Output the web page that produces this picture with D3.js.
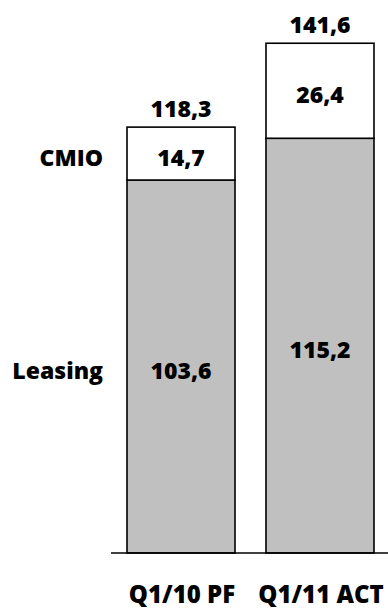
<!DOCTYPE html>
<html><head><meta charset="utf-8">
<script src="https://cdn.jsdelivr.net/npm/d3@7"></script>
<style>body{margin:0;background:#fff}svg{display:block}text{font-family:'Open Sans',Lato,sans-serif;font-weight:800;fill:#000}</style>
</head><body>
<svg id="c" width="388" height="609"></svg>
<script>
const categories = ["Q1/10 PF", "Q1/11 ACT"];
const seriesNames = ["Leasing", "CMIO"];
const leasing = [103.6, 115.2];
const cmio = [14.7, 26.4];
const totals = [118.3, 141.6];
const fmt = v => d3.format(".1f")(v).replace(".", ",");

const svg = d3.select("#c");
const x = d3.scaleBand().domain(categories).range([112, 389]).paddingInner(0.223).paddingOuter(0.108);
const y = d3.scaleLinear().domain([0, 150]).range([553, 13]);

const rows = categories.map((c, i) => ({c, leasing: leasing[i], cmio: cmio[i], total: totals[i]}));
const stack = d3.stack().keys(["leasing", "cmio"])(rows);
const fills = {leasing: "#c0c0c0", cmio: "#ffffff"};

stack.forEach(layer => {
  svg.append("g").selectAll("rect").data(layer).join("rect")
    .attr("x", d => x(d.data.c))
    .attr("y", d => y(d[1]))
    .attr("width", x.bandwidth())
    .attr("height", d => y(d[0]) - y(d[1]))
    .attr("fill", fills[layer.key])
    .attr("stroke", "#000").attr("stroke-width", 1.6);
  svg.append("g").selectAll("text").data(layer).join("text")
    .attr("x", d => x(d.data.c) + x.bandwidth() / 2)
    .attr("y", d => (y(d[0]) + y(d[1])) / 2 + 3)
    .attr("text-anchor", "middle").attr("dominant-baseline", "central")
    .attr("font-size", 23)
    .text(d => fmt(d[1] - d[0]));
});

// totals
svg.append("g").selectAll("text").data(rows).join("text")
  .attr("x", d => x(d.c) + x.bandwidth() / 2)
  .attr("y", d => y(d.total) - 19)
  .attr("text-anchor", "middle").attr("dominant-baseline", "central")
  .attr("font-size", 23)
  .text(d => fmt(d.total));

// baseline
svg.append("line").attr("x1", 111).attr("x2", 388).attr("y1", y(0)).attr("y2", y(0))
  .attr("stroke", "#000").attr("stroke-width", 1.6);

// category labels
svg.append("g").selectAll("text").data(categories).join("text")
  .attr("x", d => x(d) + x.bandwidth() / 2 + 1)
  .attr("y", 593)
  .attr("text-anchor", "middle").attr("dominant-baseline", "central")
  .attr("font-size", 24)
  .text(d => d);

// series labels (left of first bar)
svg.append("g").selectAll("text").data(stack).join("text")
  .attr("x", 103)
  .attr("y", l => (y(l[0][0]) + y(l[0][1])) / 2 + 3)
  .attr("text-anchor", "end").attr("dominant-baseline", "central")
  .attr("font-size", 23)
  .text((l, i) => seriesNames[i]);
</script>
</body></html>
